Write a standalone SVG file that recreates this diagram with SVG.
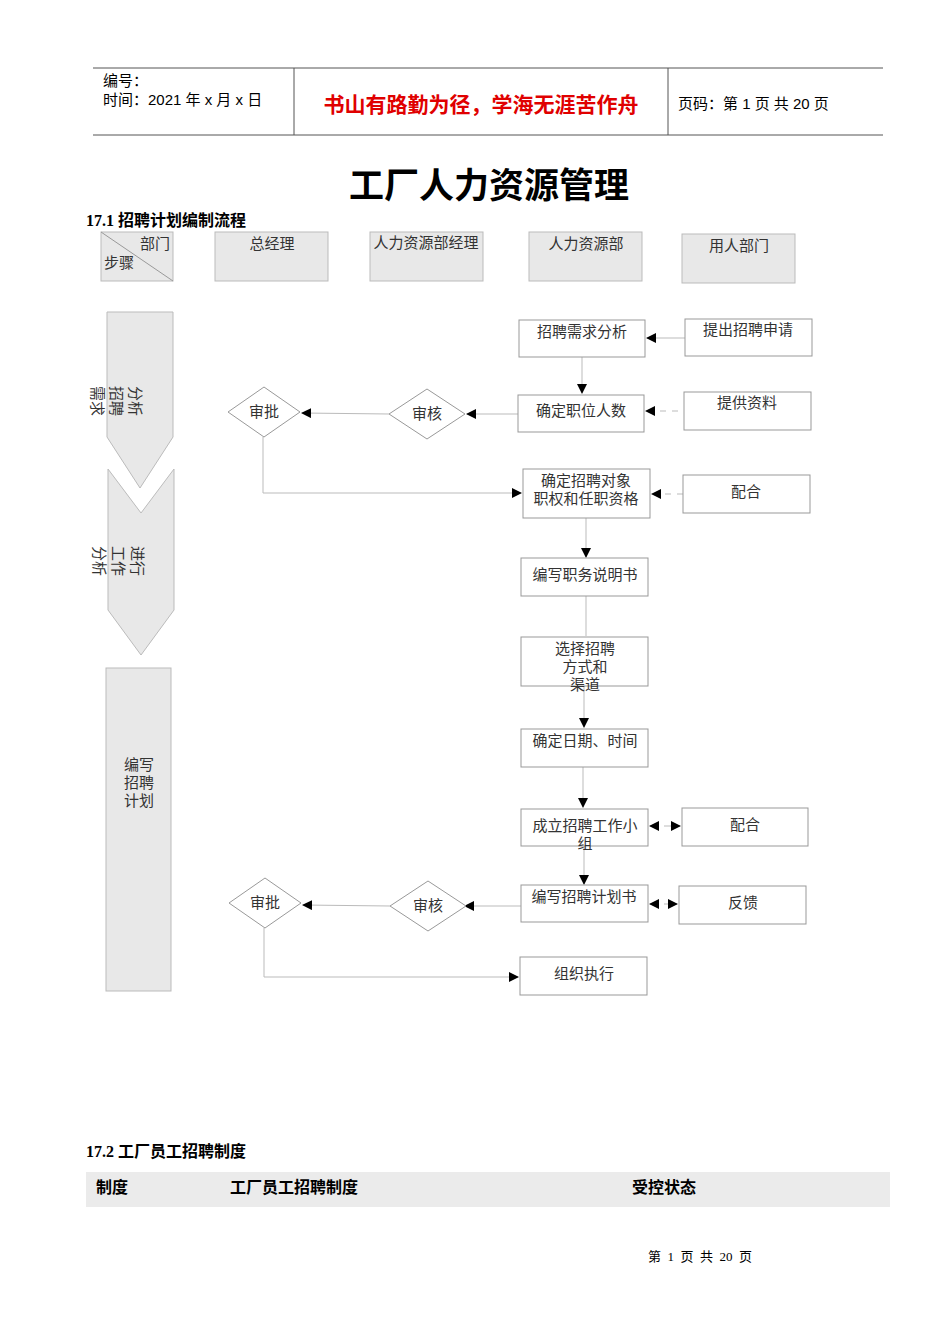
<svg xmlns="http://www.w3.org/2000/svg" width="950" height="1344" viewBox="0 0 950 1344">
<style>
text{font-family:"Liberation Serif","Noto Sans CJK SC",serif;fill:#333}
.s{font-family:"Liberation Sans","Noto Sans CJK SC",sans-serif;fill:#000}
.b{fill:#fff;stroke:#999;stroke-width:1}
.g{fill:#e8e8e8;stroke:#bbb;stroke-width:1}
.t{font-size:15px;text-anchor:middle}
.c line,.c polyline{stroke:#bbb;stroke-width:1;fill:none}
.d{stroke-dasharray:6,6}
</style>
<defs>
<marker id="a" markerWidth="10" markerHeight="10" refX="9" refY="5" orient="auto" markerUnits="userSpaceOnUse"><path d="M0,0L10,5L0,10z" fill="#000"/></marker>
</defs>
<rect width="950" height="1344" fill="#fff"/>
<g id="header">
<line x1="93" y1="68" x2="883" y2="68" stroke="#555"/>
<line x1="93" y1="135" x2="883" y2="135" stroke="#555"/>
<line x1="294" y1="68" x2="294" y2="135" stroke="#555"/>
<line x1="668" y1="68" x2="668" y2="135" stroke="#555"/>
<text class="s" x="103" y="86" font-size="15">编号：</text>
<text class="s" x="103" y="105" font-size="15">时间：2021 年 x 月 x 日</text>
<text class="s" x="481" y="112" font-size="21" font-weight="bold" text-anchor="middle" style="fill:#e00000">书山有路勤为径，学海无涯苦作舟</text>
<text class="s" x="678" y="109" font-size="15">页码：第 1 页  共 20 页</text>
</g>
<text x="489" y="198" font-size="35" font-weight="bold" text-anchor="middle" style="fill:#000">工厂人力资源管理</text>
<text x="86" y="226" font-size="16" font-weight="bold" style="fill:#000">17.1 招聘计划编制流程</text>
<g id="lanes">
<rect class="g" x="101" y="232" width="72" height="49" stroke="none"/>
<line x1="101" y1="232" x2="173" y2="281" stroke="#999"/>
<text x="140" y="249" font-size="15">部门</text>
<text x="104" y="268" font-size="15">步骤</text>
<rect class="g" x="215" y="232" width="113" height="49" stroke="none"/>
<text class="t" x="272" y="249">总经理</text>
<rect class="g" x="370" y="232" width="113" height="49" stroke="none"/>
<text class="t" x="426" y="248">人力资源部经理</text>
<rect class="g" x="529" y="232" width="113" height="49" stroke="none"/>
<text class="t" x="586" y="249">人力资源部</text>
<rect class="g" x="682" y="234" width="113" height="49" stroke="none"/>
<text class="t" x="739" y="251">用人部门</text>
</g>
<g id="phases">
<path class="g" d="M107,312H173V437L140,488L107,437Z"/>
<text font-size="15" transform="translate(130,386) rotate(90)">分析</text>
<text font-size="15" transform="translate(111,386) rotate(90)">招聘</text>
<text font-size="15" transform="translate(92,386) rotate(90)">需求</text>
<path class="g" d="M108,469L141,513L174,469V610L141,655L108,610Z"/>
<text font-size="15" transform="translate(132,546) rotate(90)">进行</text>
<text font-size="15" transform="translate(113,546) rotate(90)">工作</text>
<text font-size="15" transform="translate(94,546) rotate(90)">分析</text>
<rect class="g" x="106" y="668" width="65" height="323"/>
<text class="t" x="139" y="770">编写</text>
<text class="t" x="139" y="788">招聘</text>
<text class="t" x="139" y="806">计划</text>
</g>
<g class="c" id="connectors">
<line x1="685" y1="338" x2="647" y2="338" marker-end="url(#a)"/>
<line x1="582" y1="357" x2="582" y2="393" marker-end="url(#a)"/>
<line class="d" x1="678" y1="411" x2="646" y2="411" marker-end="url(#a)"/>
<line x1="518" y1="414" x2="467" y2="414" marker-end="url(#a)"/>
<line x1="389" y1="414" x2="302" y2="413" marker-end="url(#a)"/>
<polyline points="263,437 263,493 521,493" marker-end="url(#a)"/>
<line class="d" x1="683" y1="494" x2="652" y2="494" marker-end="url(#a)"/>
<line x1="586" y1="518" x2="586" y2="557" marker-end="url(#a)"/>
<line x1="586" y1="596" x2="586" y2="636"/>
<line x1="584" y1="686" x2="584" y2="727" marker-end="url(#a)"/>
<line x1="583" y1="767" x2="583" y2="807" marker-end="url(#a)"/>
<line x1="658" y1="826" x2="650" y2="826" marker-end="url(#a)"/>
<line x1="664" y1="826" x2="680" y2="826" marker-end="url(#a)"/>
<line x1="584" y1="846" x2="584" y2="884" marker-end="url(#a)"/>
<line x1="658" y1="904" x2="650" y2="904" marker-end="url(#a)"/>
<line x1="664" y1="904" x2="677" y2="904" marker-end="url(#a)"/>
<line x1="521" y1="906" x2="465" y2="906" marker-end="url(#a)"/>
<line x1="390" y1="906" x2="303" y2="905" marker-end="url(#a)"/>
<polyline points="264,928 264,977 518,977" marker-end="url(#a)"/>
</g>
<g id="n1"><rect class="b" x="519" y="320" width="126" height="37"/><text class="t" x="582" y="337">招聘需求分析</text></g>
<g id="n2"><rect class="b" x="685" y="319" width="127" height="37"/><text class="t" x="748" y="335">提出招聘申请</text></g>
<g id="n3"><rect class="b" x="518" y="395" width="126" height="37"/><text class="t" x="581" y="416">确定职位人数</text></g>
<g id="n4"><rect class="b" x="684" y="392" width="127" height="38"/><text class="t" x="747" y="408">提供资料</text></g>
<g id="n5"><path class="b" d="M427,389L465,414L427,439L389,414Z" stroke="#ccc"/><text class="t" x="427" y="419">审核</text></g>
<g id="n6"><path class="b" d="M264,387L300,412L264,437L228,412Z" stroke="#ccc"/><text class="t" x="264" y="417">审批</text></g>
<g id="n7"><rect class="b" x="523" y="469" width="127" height="49"/><text class="t" x="586" y="486">确定招聘对象</text><text class="t" x="586" y="504">职权和任职资格</text></g>
<g id="n8"><rect class="b" x="683" y="475" width="127" height="38"/><text class="t" x="746" y="497">配合</text></g>
<g id="n9"><rect class="b" x="521" y="558" width="127" height="38"/><text class="t" x="585" y="580">编写职务说明书</text></g>
<g id="n10"><rect class="b" x="521" y="637" width="127" height="49"/><text class="t" x="585" y="654">选择招聘</text><text class="t" x="585" y="672">方式和</text><text class="t" x="585" y="690">渠道</text></g>
<g id="n11"><rect class="b" x="521" y="729" width="127" height="38"/><text class="t" x="585" y="746">确定日期、时间</text></g>
<g id="n12"><rect class="b" x="521" y="809" width="127" height="37"/><text class="t" x="585" y="831">成立招聘工作小</text><text class="t" x="585" y="849">组</text></g>
<g id="n13"><rect class="b" x="682" y="808" width="126" height="38"/><text class="t" x="745" y="830">配合</text></g>
<g id="n14"><rect class="b" x="521" y="885" width="127" height="37"/><text class="t" x="584" y="902">编写招聘计划书</text></g>
<g id="n15"><rect class="b" x="679" y="886" width="127" height="38"/><text class="t" x="743" y="908">反馈</text></g>
<g id="n16"><path class="b" d="M428,881L466,906L428,931L390,906Z" stroke="#ccc"/><text class="t" x="428" y="911">审核</text></g>
<g id="n17"><path class="b" d="M265,878L301,903L265,928L229,903Z" stroke="#ccc"/><text class="t" x="265" y="908">审批</text></g>
<g id="n18"><rect class="b" x="520" y="957" width="127" height="38"/><text class="t" x="584" y="979">组织执行</text></g>
<text x="86" y="1157" font-size="16" font-weight="bold" style="fill:#000">17.2 工厂员工招聘制度</text>
<rect x="86" y="1172" width="804" height="35" fill="#ebebeb"/>
<text x="96" y="1193" font-size="16" font-weight="bold" style="fill:#000">制度</text>
<text x="230" y="1193" font-size="16" font-weight="bold" style="fill:#000">工厂员工招聘制度</text>
<text x="632" y="1193" font-size="16" font-weight="bold" style="fill:#000">受控状态</text>
<text x="648" y="1261" font-size="13" style="fill:#000" xml:space="preserve">第  1  页  共  20  页</text>
</svg>
